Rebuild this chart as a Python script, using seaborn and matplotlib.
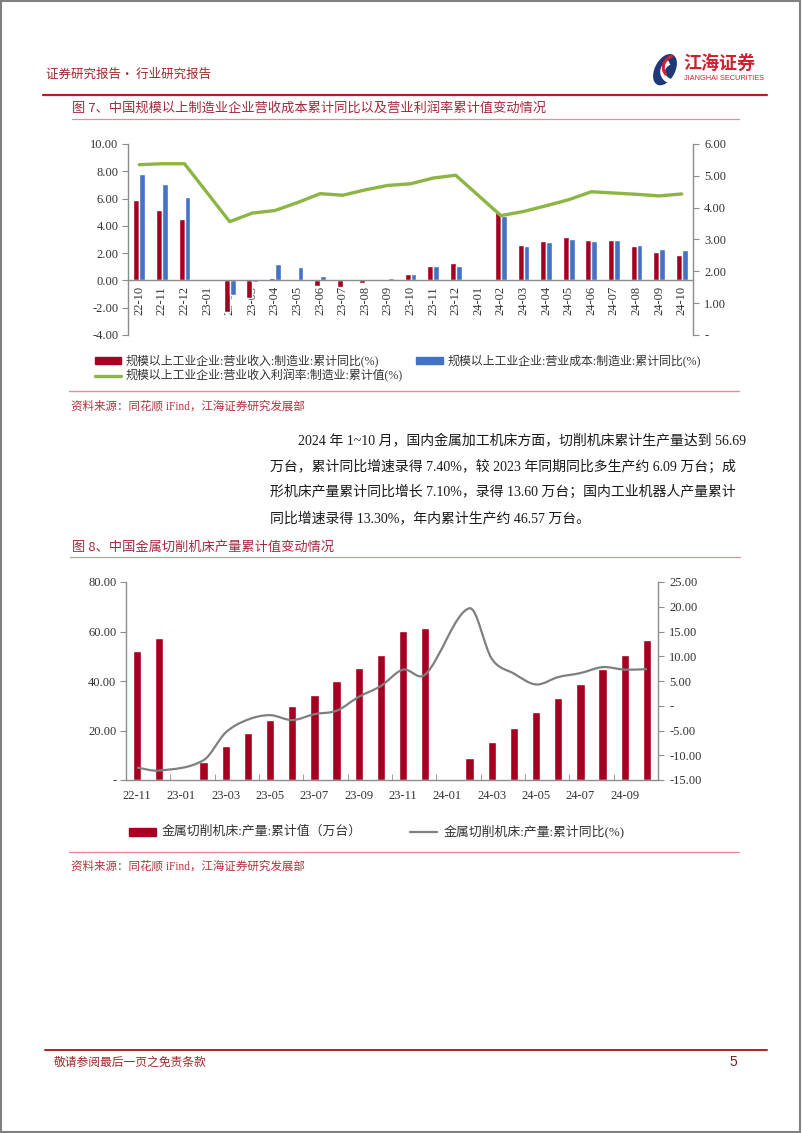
import numpy as np
import pandas as pd
import matplotlib
matplotlib.use('Agg')
import matplotlib.pyplot as plt
import seaborn as sns
from matplotlib.patches import Rectangle, Ellipse, PathPatch, Arc
from matplotlib.path import Path
from matplotlib.lines import Line2D

nan = np.nan

# ── Data: figure 7 ──────────────────────────────────
months1 = ['22-10', '22-11', '22-12', '23-01', '23-02', '23-03', '23-04', '23-05',
           '23-06', '23-07', '23-08', '23-09', '23-10', '23-11', '23-12', '24-01',
           '24-02', '24-03', '24-04', '24-05', '24-06', '24-07', '24-08', '24-09', '24-10']
rev_yoy = [5.92, 5.18, 4.50, nan, -2.35, -1.30, 0.17, 0.03, -0.39, -0.49, -0.20, 0.07,
           0.49, 1.08, 1.30, nan, 4.99, 2.59, 2.91, 3.20, 2.98, 2.98, 2.49, 2.08, 1.88]
cost_yoy = [7.82, 7.09, 6.11, nan, -1.10, -0.10, 1.20, 0.98, 0.29, 0.02, 0.07, 0.17,
            0.49, 1.08, 1.08, nan, 4.69, 2.49, 2.79, 3.06, 2.88, 2.98, 2.59, 2.27, 2.20]
margin = [5.35, 5.38, 5.38, nan, 3.56, 3.83, 3.91, 4.16, 4.44, 4.39, 4.56, 4.70,
          4.75, 4.93, 5.02, nan, 3.75, 3.88, 4.06, 4.25, 4.50, 4.46, 4.42, 4.37, 4.43]
name_rev = '规模以上工业企业:营业收入:制造业:累计同比(%)'
name_cost = '规模以上工业企业:营业成本:制造业:累计同比(%)'
name_margin = '规模以上工业企业:营业收入利润率:制造业:累计值(%)'

# ── Data: figure 8 ──────────────────────────────────
months2 = ['22-11', '22-12', '23-01', '23-02', '23-03', '23-04', '23-05', '23-06',
           '23-07', '23-08', '23-09', '23-10', '23-11', '23-12', '24-01', '24-02',
           '24-03', '24-04', '24-05', '24-06', '24-07', '24-08', '24-09', '24-10']
output = [52.2, 57.3, nan, 7.4, 13.7, 18.95, 24.2, 29.8, 34.5, 39.8, 45.4, 50.5,
          60.2, 61.4, nan, 9.0, 15.2, 21.0, 27.3, 33.3, 38.7, 44.9, 50.5, 56.69]
output_yoy = [-12.5, -13.1, nan, -11.0, -5.4, -2.8, -1.9, -2.9, -1.7, -1.0, 1.8, 4.0,
              7.3, 6.3, nan, 19.7, 9.5, 6.5, 4.3, 5.8, 6.6, 7.8, 7.3, 7.40]
name_out = '金属切削机床:产量:累计值（万台）'
name_out_yoy = '金属切削机床:产量:累计同比(%)'

para = ['2024 年 1~10 月，国内金属加工机床方面，切削机床累计生产量达到 56.69',
        '万台，累计同比增速录得 7.40%，较 2023 年同期同比多生产约 6.09 万台；成',
        '形机床产量累计同比增长 7.10%，录得 13.60 万台；国内工业机器人产量累计',
        '同比增速录得 13.30%，年内累计生产约 46.57 万台。']

# ── Style ───────────────────────────────────────────
sns.set_style('white')
MIX = ['Liberation Serif', 'Noto Sans CJK SC']
CJK = ['Noto Sans CJK SC', 'DejaVu Sans']
plt.rcParams['font.family'] = MIX
plt.rcParams['axes.unicode_minus'] = False

RED = '#a50021'
BLUE = '#4472c4'
GREEN = '#8db543'
LGRAY = '#7f7f7f'
SPINE = '#8c8c8c'
HEAD_RED = '#b81c26'
TITLE_RED = '#a3293d'
PINK = '#d9909a'
TICK = '#333333'

W, H = 802, 1133
fig = plt.figure(figsize=(W / 100, H / 100), dpi=100)


def add_ax(x, y, w, h):
    return fig.add_axes([x / W, 1 - (y + h) / H, w / W, h / H])


def txt(x, y, s, size, color, ha='left', va='center', family=CJK, **kw):
    fig.text(x / W, 1 - y / H, s, fontsize=size, color=color, ha=ha, va=va,
             family=family, **kw)


def hline(x0, x1, y, color, lw):
    fig.add_artist(Line2D([x0 / W, x1 / W], [1 - y / H, 1 - y / H],
                          transform=fig.transFigure, color=color, lw=lw))


def style_spines(ax):
    for s in ax.spines.values():
        s.set_color(SPINE)
        s.set_linewidth(1.0)


# ── Page furniture ──────────────────────────────────
fig.add_artist(Rectangle((0.001, 0.001), 0.997, 0.998, transform=fig.transFigure,
                         fill=False, edgecolor='#808080', lw=1.5))
txt(46, 74, '证券研究报告· 行业研究报告', 9, '#a0282d')
hline(43, 767, 95, HEAD_RED, 1.6)

# logo
lax = add_ax(648, 52, 34, 34)
lax.set_xlim(0, 1)
lax.set_ylim(0, 1)
lax.axis('off')
lax.add_patch(Ellipse((0.5, 0.48), 0.55, 0.95, angle=-28, color='#1d3a78'))
lax.add_patch(Arc((0.78, 0.42), 0.7, 0.6, theta1=120, theta2=250, color='white', lw=3.5))
lax.add_patch(Arc((0.85, 0.55), 0.8, 0.7, theta1=110, theta2=215, color='#d0202e', lw=2.2))
txt(683, 63, '江海证券', 13, '#d0202e', weight='bold')
txt(684, 79, 'JIANGHAI SECURITIES', 5.3, '#d0202e', family=['Liberation Sans'])

# ── Figure 7 ────────────────────────────────────────
txt(72, 108, '图 7、中国规模以上制造业企业营收成本累计同比以及营业利润率累计值变动情况', 9.5, TITLE_RED)
hline(72, 739, 119, PINK, 0.9)

ax1 = add_ax(128, 144, 565, 191)
long1 = pd.DataFrame({'month': months1 * 2,
                      'value': rev_yoy + cost_yoy,
                      'series': [name_rev] * len(months1) + [name_cost] * len(months1)}).dropna()
sns.barplot(data=long1, x='month', y='value', hue='series', order=months1,
            hue_order=[name_rev, name_cost], palette=[RED, BLUE], width=0.53,
            saturation=1, errorbar=None, legend=False, ax=ax1)
ax1.set_xlabel('')
ax1.set_ylabel('')
ax1.set_ylim(-4, 10)
yt = np.arange(-4, 11, 2)
ax1.set_yticks(yt)
ax1.set_yticklabels([f'{v:.2f}' for v in yt], fontsize=9, color=TICK)
ax1.tick_params(axis='y', length=4, direction='out', color=SPINE, pad=3, left=True)
style_spines(ax1)
ax1.spines['bottom'].set_position(('data', 0))
ax1.spines['top'].set_visible(False)
ax1.spines['right'].set_visible(False)

ax2 = ax1.twinx()
m_idx = [i for i, v in enumerate(margin) if not np.isnan(v)]
sns.lineplot(x=m_idx, y=[margin[i] for i in m_idx], color=GREEN, linewidth=2.4,
             sort=False, ax=ax2)
ax2.set_ylim(0, 6)
rt = np.arange(0, 7, 1)
ax2.set_yticks(rt)
ax2.set_yticklabels(['-' if v == 0 else f'{v:.2f}' for v in rt], fontsize=9, color=TICK)
ax2.tick_params(axis='y', length=4, direction='out', color=SPINE, pad=4, right=True)
style_spines(ax2)
for s in ['top', 'left', 'bottom']:
    ax2.spines[s].set_visible(False)
ax2.set_ylabel('')

# category axis set after the twin so the shared ticker keeps the months
ax1.set_xlim(-0.5, len(months1) - 0.5)
ax1.set_xticks(range(len(months1)))
ax1.set_xticklabels(months1, fontsize=9, color=TICK)
ax1.set_xticks(np.arange(0.5, len(months1) - 0.5, 1), minor=True)
ax1.tick_params(axis='x', which='major', length=0, pad=4, labelrotation=90)
ax1.tick_params(axis='x', which='minor', length=4, direction='out', color=SPINE)
ax2.tick_params(axis='x', which='both', bottom=False, labelbottom=False)

# legend
fig.add_artist(Rectangle((95 / W, 1 - 364 / H), 26 / W, 7 / H, transform=fig.transFigure, color=RED))
txt(126, 360.5, name_rev, 8.6, TICK, family=MIX)
fig.add_artist(Rectangle((416 / W, 1 - 364 / H), 27 / W, 7 / H, transform=fig.transFigure, color=BLUE))
txt(448, 360.5, name_cost, 8.6, TICK, family=MIX)
hline(95, 121, 376, GREEN, 2.4)
txt(126, 376, name_margin, 8.6, TICK, family=MIX)
hline(69, 739, 391, PINK, 1.0)
txt(71, 407, '资料来源：同花顺 iFind，江海证券研究发展部', 8.3, '#b5303c', family=MIX)

# ── Paragraph ───────────────────────────────────────
for i, (line, y) in enumerate(zip(para, [441, 467, 492, 518])):
    txt(298 if i == 0 else 270, y, line, 10, '#1a1a1a', family=MIX)

# ── Figure 8 ────────────────────────────────────────
txt(72, 547, '图 8、中国金属切削机床产量累计值变动情况', 9.5, TITLE_RED)
hline(70, 740, 557, PINK, 0.9)

ax3 = add_ax(126, 582, 532, 198)
df2 = pd.DataFrame({'month': months2, 'output': output}).dropna()
sns.barplot(data=df2, x='month', y='output', order=months2, color=RED, width=0.38,
            saturation=1, errorbar=None, ax=ax3)
ax3.set_xlabel('')
ax3.set_ylabel('')
ax3.set_ylim(0, 80)
lt = np.arange(0, 81, 20)
ax3.set_yticks(lt)
ax3.set_yticklabels(['-' if v == 0 else f'{v:.2f}' for v in lt], fontsize=9, color=TICK)
ax3.tick_params(axis='y', length=4, direction='out', color=SPINE, pad=3, left=True)
style_spines(ax3)
ax3.spines['top'].set_visible(False)
ax3.spines['right'].set_visible(False)

ax4 = ax3.twinx()
ax4.set_ylim(-15, 25)
rt2 = np.arange(-15, 26, 5)
ax4.set_yticks(rt2)
ax4.set_yticklabels(['-' if v == 0 else f'{v:.2f}' for v in rt2], fontsize=9, color=TICK)
ax4.tick_params(axis='y', length=4, direction='out', color=SPINE, pad=4, right=True)
style_spines(ax4)
for s in ['top', 'left', 'bottom']:
    ax4.spines[s].set_visible(False)

# smoothed yoy line (cubic Hermite through the data points)
xs = np.array([i for i, v in enumerate(output_yoy) if not np.isnan(v)], float)
ys = np.array([output_yoy[i] for i in xs.astype(int)], float)
m = np.empty(len(xs))
m[0] = (ys[1] - ys[0]) / (xs[1] - xs[0])
m[-1] = (ys[-1] - ys[-2]) / (xs[-1] - xs[-2])
m[1:-1] = (ys[2:] - ys[:-2]) / (xs[2:] - xs[:-2])
verts = [(xs[0], ys[0])]
codes = [Path.MOVETO]
for i in range(len(xs) - 1):
    dx = xs[i + 1] - xs[i]
    verts += [(xs[i] + dx / 3, ys[i] + m[i] * dx / 3),
              (xs[i + 1] - dx / 3, ys[i + 1] - m[i + 1] * dx / 3),
              (xs[i + 1], ys[i + 1])]
    codes += [Path.CURVE4] * 3
ax4.add_patch(PathPatch(Path(verts, codes), fill=False, edgecolor=LGRAY, lw=1.6))

ax3.set_xlim(-0.5, len(months2) - 0.5)
ax3.set_xticks(range(0, len(months2), 2))
ax3.set_xticklabels(months2[::2], fontsize=9, color=TICK)
ax3.set_xticks(np.arange(1.5, len(months2) - 1, 2), minor=True)
ax3.tick_params(axis='x', which='major', length=0, pad=7)
ax3.tick_params(axis='x', which='minor', length=4, direction='in', color=SPINE, bottom=True)
ax4.tick_params(axis='x', which='both', bottom=False, labelbottom=False)

# legend
fig.add_artist(Rectangle((129 / W, 1 - 835.5 / H), 27 / W, 8 / H, transform=fig.transFigure, color=RED))
txt(162, 831.5, name_out, 9.3, TICK, family=MIX)
hline(410, 437, 831.5, LGRAY, 1.6)
txt(444, 831.5, name_out_yoy, 9.3, TICK, family=MIX)
hline(69, 739, 852, PINK, 1.0)
txt(71, 867, '资料来源：同花顺 iFind，江海证券研究发展部', 8.3, '#b5303c', family=MIX)

# ── Footer ──────────────────────────────────────────
hline(45, 767, 1050, HEAD_RED, 1.4)
txt(54, 1062, '敬请参阅最后一页之免责条款', 8.5, '#a0282d')
txt(729, 1062, '5', 10, '#8b1a1a', family=['Liberation Sans'])

fig.savefig('out.png', dpi=100)
